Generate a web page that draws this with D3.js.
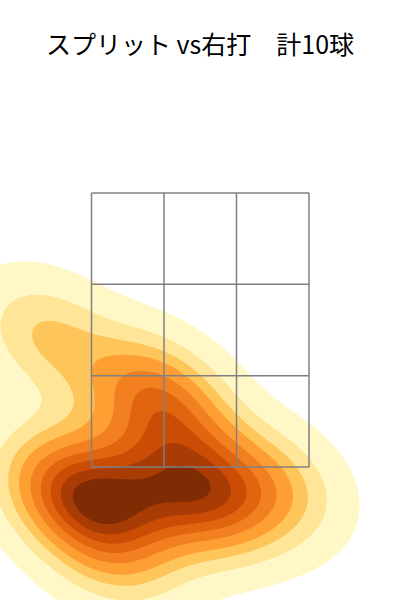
<!DOCTYPE html>
<html>
<head>
<meta charset="utf-8">
<script src="https://cdn.jsdelivr.net/npm/d3@7"></script>
<style>
  body { margin: 0; background: #fff; }
  svg { display: block; }
</style>
</head>
<body>
<svg id="chart" width="400" height="600"></svg>
<script>
// Pitch locations, plate x and height in cm (catcher's view)
var pitch_x = [-27.9, -23.9, -14.0, -1.0, 2.9, -6.0, -10.1, -30.8, -16.9, 14.9];
var pitch_y = [40.8, 38.8, 40.8, 38.4, 39.4, 55.4, 60.9, 71.5, 27.9, 41.4];

// Strike zone, split 3 x 3
var zone_x = [-21.6, -7.2, 7.2, 21.6];
var zone_y = [45, 63.33, 81.67, 100];

// Iso-proportion levels, like seaborn kdeplot(levels=10, thresh=0.05)
var quantiles = d3.range(10).map(function (i) { return 0.05 + i * 0.95 / 9; });

var band_colors = ["#fff8c6", "#fee597", "#fec55a", "#fe9f33", "#f38020",
                   "#e1640f", "#cb4c04", "#a93b04", "#7f2b04"];

var width = 400, height = 600;
var svg = d3.select("#chart");

var x = d3.scaleLinear().domain([-21.6, 21.6]).range([91.5, 309]);
var y = d3.scaleLinear().domain([45, 100]).range([467, 193]);

// Gaussian KDE in pixel space (Scott's rule, full covariance)
var pts = pitch_x.map(function (d, i) { return [x(d), y(pitch_y[i])]; });
var n = pts.length;
var mx = d3.mean(pts, function (p) { return p[0]; }),
    my = d3.mean(pts, function (p) { return p[1]; });
var sxx = 0, syy = 0, sxy = 0;
pts.forEach(function (p) {
    sxx += (p[0] - mx) * (p[0] - mx);
    syy += (p[1] - my) * (p[1] - my);
    sxy += (p[0] - mx) * (p[1] - my);
});
var f2 = Math.pow(n, -2 / 6);
sxx = sxx / (n - 1) * f2; syy = syy / (n - 1) * f2; sxy = sxy / (n - 1) * f2;
var det = sxx * syy - sxy * sxy;
var ixx = syy / det, iyy = sxx / det, ixy = -sxy / det;

var cell = 2, x0 = -300, y0 = -100, nx = 500, ny = 500;
var values = new Float64Array(nx * ny);
for (var j = 0; j < ny; j++) {
    for (var i = 0; i < nx; i++) {
        var gx = x0 + (i + 0.5) * cell, gy = y0 + (j + 0.5) * cell, s = 0;
        for (var k = 0; k < n; k++) {
            var dx = gx - pts[k][0], dy = gy - pts[k][1];
            s += Math.exp(-0.5 * (ixx * dx * dx + 2 * ixy * dx * dy + iyy * dy * dy));
        }
        values[j * nx + i] = s;
    }
}

// Density value that encloses (1 - q) of the mass
var sorted = Array.from(values).sort(function (a, b) { return b - a; });
var total = d3.sum(sorted);
var cum = new Float64Array(sorted.length), acc = 0;
for (var m = 0; m < sorted.length; m++) { acc += sorted[m]; cum[m] = acc / total; }
var levels = quantiles.slice(0, 9).map(function (q) {
    var idx = d3.bisectLeft(cum, 1 - q);
    return sorted[Math.min(idx, sorted.length - 1)];
});

var contours = d3.contours().size([nx, ny]).thresholds(levels)(values);
var path = d3.geoPath(d3.geoIdentity().scale(cell).translate([x0, y0]));

svg.append("clipPath").attr("id", "clip")
  .append("rect").attr("width", width).attr("height", height);

svg.append("g")
    .attr("clip-path", "url(#clip)")
  .selectAll("path")
  .data(contours)
  .join("path")
    .attr("d", path)
    .attr("fill", function (d, i) { return band_colors[i]; });

// Strike zone grid on top
var grid = svg.append("g")
    .attr("stroke", "#808080")
    .attr("stroke-width", 1.5)
    .attr("fill", "none");

zone_x.forEach(function (v) {
    grid.append("line")
        .attr("x1", x(v)).attr("x2", x(v))
        .attr("y1", y(zone_y[0])).attr("y2", y(zone_y[3]));
});
zone_y.forEach(function (v) {
    grid.append("line")
        .attr("x1", x(zone_x[0])).attr("x2", x(zone_x[3]))
        .attr("y1", y(v)).attr("y2", y(v));
});

svg.append("text")
    .attr("x", width / 2)
    .attr("y", 54)
    .attr("text-anchor", "middle")
    .attr("font-family", "'Noto Sans CJK JP', 'Noto Sans', sans-serif")
    .attr("font-size", 25)
    .attr("fill", "#000")
    .text("スプリット vs右打\u3000計10球");
</script>
</body>
</html>
